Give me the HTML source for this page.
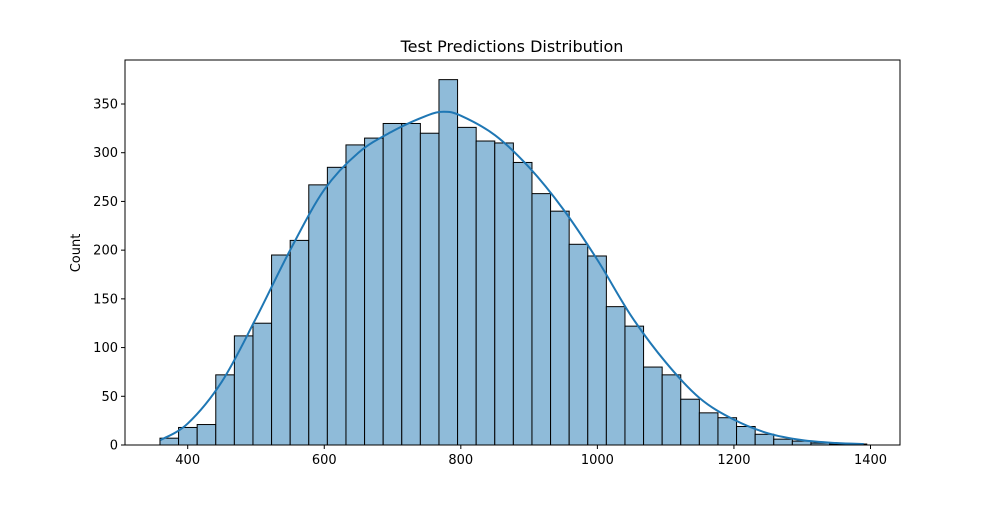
<!DOCTYPE html>
<html><head><meta charset="utf-8"><style>
body{margin:0;background:#fff;font-family:"Liberation Sans","DejaVu Sans",sans-serif}
</style></head><body>
<svg id="chart" width="1000" height="500" xmlns="http://www.w3.org/2000/svg" font-family="DejaVu Sans, Liberation Sans, sans-serif">
<rect width="1000" height="500" fill="#fff"/>
<text x="512" y="52" font-size="16" text-anchor="middle">Test Predictions Distribution</text>
<text transform="translate(80,253) rotate(-90)" font-size="13" text-anchor="middle">Count</text>
<g id="bars"></g><g id="kde"></g><g id="axes"></g>
</svg>
<script>
const binStart = 359.4;
const binWidth = 27.24;
const counts = [7,18,21,72,112,125,195,210,267,285,308,315,330,330,320,375,326,312,310,290,258,240,206,194,142,122,80,72,47,33,28,19,11,6,4,2,1,1];
const kdeX = [360,400,450,500,550,600,650,700,750,775,800,850,900,950,1000,1050,1100,1150,1200,1250,1300,1350,1390];
const kdeY = [5,22,65,130,200,262,300,322,338,342,338,318,285,242,190,132,85,48,26,12,5,2,1];
const xTicks = [400,600,800,1000,1200,1400];
const yTicks = [0,50,100,150,200,250,300,350];
const NS = "http://www.w3.org/2000/svg";
const L=125,R=900,T=60,B=445;
const xs = v => 187.7 + (v-400)*0.6828;
const ys = v => B - v*0.9743;
function mk(tag, attrs, parent){const e=document.createElementNS(NS,tag);for(const k in attrs)e.setAttribute(k,attrs[k]);parent.appendChild(e);return e;}
const bars=document.getElementById('bars');
counts.forEach((c,i)=>{
  const x0=xs(binStart+i*binWidth), x1=xs(binStart+(i+1)*binWidth);
  const r=mk('rect',{x:x0,y:ys(c),width:x1-x0,height:B-ys(c),fill:'#8fbbd9',stroke:'#000','stroke-width':1},bars);
  
  
});
const kde=document.getElementById('kde');
let d='';
for(let i=0;i<kdeX.length;i++){
  const x=xs(kdeX[i]),y=ys(kdeY[i]);
  if(i===0){d+=`M${x},${y}`;continue;}
  const x0=xs(kdeX[i-1]),y0=ys(kdeY[i-1]);
  const xp=i>1?xs(kdeX[i-2]):x0, yp=i>1?ys(kdeY[i-2]):y0;
  const xn=i<kdeX.length-1?xs(kdeX[i+1]):x, yn=i<kdeX.length-1?ys(kdeY[i+1]):y;
  d+=`C${x0+(x-xp)/6},${y0+(y-yp)/6} ${x-(xn-x0)/6},${y-(yn-y0)/6} ${x},${y}`;
}
const kp=mk('path',{d:d,fill:'none',stroke:'#1f77b4','stroke-width':2},kde);


const ax=document.getElementById('axes');
const fr=mk('rect',{x:L,y:T,width:R-L,height:B-T,fill:'none',stroke:'#000','stroke-width':1},ax);


xTicks.forEach(v=>{
  const x=xs(v);
  mk('line',{x1:x,x2:x,y1:B,y2:B+4,stroke:'#000'},ax);
  const t=mk('text',{x:x,y:B+19,'font-size':13,'text-anchor':'middle'},ax);
  t.textContent=v;
  
  
});
yTicks.forEach(v=>{
  const y=ys(v);
  mk('line',{x1:L-4,x2:L,y1:y,y2:y,stroke:'#000'},ax);
  const t=mk('text',{x:L-7,y:y+4.5,'font-size':13,'text-anchor':'end'},ax);
  t.textContent=v;
  
  
});
</script>
</body></html>
